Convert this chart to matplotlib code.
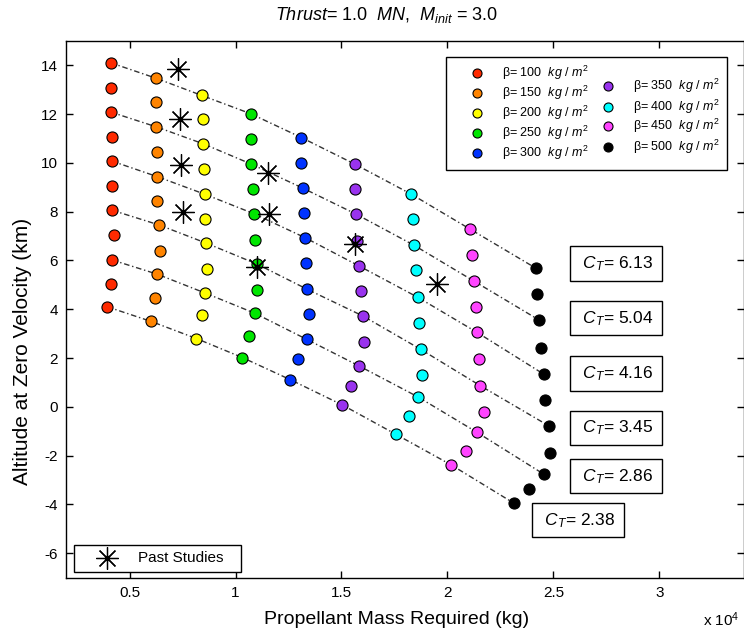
import matplotlib
matplotlib.use("Agg")
import matplotlib.pyplot as plt
from matplotlib.lines import Line2D
from matplotlib.patches import Rectangle
from matplotlib.ticker import FuncFormatter

plt.rcParams['font.family'] = ['Liberation Sans', 'DejaVu Sans']
plt.rcParams['mathtext.fontset'] = 'custom'
plt.rcParams['mathtext.rm'] = 'Liberation Sans'
plt.rcParams['mathtext.it'] = 'Liberation Sans:italic'
plt.rcParams['axes.unicode_minus'] = False

# ballistic coefficients (kg/m^2) and marker colours
betas = [100, 150, 200, 250, 300, 350, 400, 450, 500]
colors = ['#ff2a00', '#ff8400', '#ffff00', '#00e600', '#0033ff',
          '#9933ee', '#00ffff', '#ff44ff', '#000000']

# propellant mass (kg) and altitude (km), one list per beta
mass_100 = [4100, 4100, 4100, 4150, 4150, 4180, 4180, 4250, 4180, 4100, 3950]
alt_100 = [14.11, 13.09, 12.09, 11.08, 10.08, 9.06, 8.06, 7.05, 6.02, 5.05, 4.10]
mass_150 = [6260, 6260, 6260, 6300, 6300, 6300, 6380, 6420, 6300, 6190, 6020]
alt_150 = [13.47, 12.51, 11.48, 10.45, 9.44, 8.44, 7.46, 6.39, 5.44, 4.48, 3.50]
mass_200 = [8400, 8460, 8460, 8500, 8540, 8580, 8620, 8670, 8580, 8400, 8150]
alt_200 = [12.77, 11.79, 10.79, 9.77, 8.72, 7.69, 6.71, 5.64, 4.66, 3.77, 2.80]
mass_250 = [10710, 10750, 10750, 10810, 10860, 10910, 11020, 10990, 10900, 10640, 10320]
alt_250 = [12.02, 10.97, 9.95, 8.95, 7.92, 6.83, 5.85, 4.78, 3.84, 2.91, 2.02]
mass_300 = [13110, 13110, 13190, 13220, 13270, 13330, 13380, 13460, 13350, 12960, 12590]
alt_300 = [11.04, 10.01, 8.96, 7.94, 6.94, 5.89, 4.82, 3.80, 2.77, 1.95, 1.11]
mass_350 = [15630, 15630, 15690, 15740, 15820, 15930, 16020, 16050, 15820, 15470, 15030]
alt_350 = [9.95, 8.92, 7.90, 6.80, 5.78, 4.73, 3.72, 2.65, 1.68, 0.86, 0.08]
mass_400 = [18290, 18360, 18410, 18520, 18600, 18650, 18730, 18810, 18600, 18180, 17550]
alt_400 = [8.72, 7.69, 6.63, 5.60, 4.49, 3.45, 2.36, 1.31, 0.41, -0.37, -1.12]
mass_450 = [21080, 21160, 21240, 21330, 21400, 21500, 21560, 21720, 21400, 20860, 20190]
alt_450 = [7.28, 6.22, 5.16, 4.10, 3.05, 1.95, 0.86, -0.23, -1.05, -1.80, -2.39]
mass_500 = [24180, 24230, 24340, 24430, 24540, 24620, 24780, 24830, 24540, 23840, 23130]
alt_500 = [5.68, 4.62, 3.55, 2.43, 1.34, 0.27, -0.78, -1.89, -2.76, -3.37, -3.95]

masses = [mass_100, mass_150, mass_200, mass_250, mass_300, mass_350, mass_400, mass_450, mass_500]
alts = [alt_100, alt_150, alt_200, alt_250, alt_300, alt_350, alt_400, alt_450, alt_500]

# every other row is joined by a constant thrust-coefficient line
ct_rows = [0, 2, 4, 6, 8, 10]
ct_labels = ['6.13', '5.04', '4.16', '3.45', '2.86', '2.38']

# past studies
past_mass = [7280, 7360, 7450, 7510, 11530, 11590, 11010, 15660, 19510]
past_alt = [13.84, 11.79, 9.92, 7.99, 9.59, 7.91, 5.74, 6.67, 5.03]

W, H = 744, 634


def fx(px):
    return px / W


def fy(py):
    return 1 - py / H


fig = plt.figure(figsize=(W / 100, H / 100), dpi=100)
ax = fig.add_axes([fx(66), fy(577.5), (744.1 - 66) / W, (577.5 - 41) / H])

star = (8, 2, 0)
line_style = (0, (4, 2, 1, 2))

for row in ct_rows:
    xs = [m[row] for m in masses]
    ys = [a[row] for a in alts]
    ax.plot(xs, ys, color='#333333', lw=1.0, ls=line_style, zorder=1)

for m, a, c in zip(masses, alts, colors):
    ax.plot(m, a, ls='none', marker='o', ms=8, mfc=c, mec='black', mew=0.8, zorder=3)

ax.plot(past_mass, past_alt, ls='none', marker=star, ms=16, mec='black', mew=0.9, zorder=4)
ax.plot(past_mass, past_alt, ls='none', marker='o', ms=3, mfc='black', mec='black', zorder=4)

# C_T boxes (layout positions in data units)
ct_pos = [(26150, 5.88), (26150, 3.63), (26150, 1.37), (26150, -0.86), (26150, -2.85), (24380, -4.65)]
for lab, (x, y) in zip(ct_labels, ct_pos):
    ax.text(x, y, r' $C_T$= ' + lab + ' ', fontsize=12.5, ha='left', va='center', zorder=5,
            bbox=dict(boxstyle='square,pad=0.45', fc='white', ec='black', lw=1))

ax.set_xlim(2000, 34000)
ax.set_ylim(-7, 15)
ax.set_xticks([5000, 10000, 15000, 20000, 25000, 30000])
ax.set_yticks(range(-6, 15, 2))
ax.xaxis.set_major_formatter(FuncFormatter(lambda v, p: f'{v / 1e4:g}'))
ax.tick_params(direction='in', length=5, width=1, top=True, right=True,
               labelsize=11, pad=6)
for s in ax.spines.values():
    s.set_linewidth(1)

fig.text(fx(387), fy(15), r'$Thrust$= 1.0  $MN$,  $M_{init}$ = 3.0',
         ha='center', va='center', fontsize=13)
fig.text(fx(397), fy(620), 'Propellant Mass Required (kg)', ha='center', va='center', fontsize=14)
fig.text(fx(23), fy(351), 'Altitude at Zero Velocity (km)', ha='center', va='center',
         rotation=90, fontsize=15)
fig.text(fx(703), fy(620), r'x 10$^{4}$', ha='left', va='center', fontsize=11)

# beta legend
fig.add_artist(Rectangle((fx(446), fy(169.5)), (727 - 446) / W, (169.5 - 57) / H,
                         transform=fig.transFigure, fc='white', ec='black', lw=1, zorder=5))
legend_pos = [(477, 73.3), (477, 93.3), (477, 113.3), (477, 133.3), (477, 152.7),
              (608, 85.7), (608, 107.3), (608, 126.0), (608, 146.7)]
for b, c, (px, py) in zip(betas, colors, legend_pos):
    fig.add_artist(Line2D([fx(px)], [fy(py)], ls='none', marker='o', ms=6.5, mfc=c,
                          mec='black', mew=0.8, transform=fig.transFigure, zorder=6))
    fig.text(fx(px + 25), fy(py), 'β= %d  $kg\\ /\\ m^2$' % b, ha='left', va='center',
             fontsize=9, zorder=6)

# past studies legend
fig.add_artist(Rectangle((fx(74), fy(572.3)), (241 - 74) / W, (572.3 - 545) / H,
                         transform=fig.transFigure, fc='white', ec='black', lw=1, zorder=5))
fig.add_artist(Line2D([fx(107)], [fy(558.3)], ls='none', marker=star, ms=16, mec='black',
                      mew=0.9, transform=fig.transFigure, zorder=6))
fig.add_artist(Line2D([fx(107)], [fy(558.3)], ls='none', marker='o', ms=3, mfc='black',
                      mec='black', transform=fig.transFigure, zorder=6))
fig.text(fx(138), fy(558.3), 'Past Studies', ha='left', va='center', fontsize=11, zorder=6)

fig.savefig('out.png', dpi=100)
